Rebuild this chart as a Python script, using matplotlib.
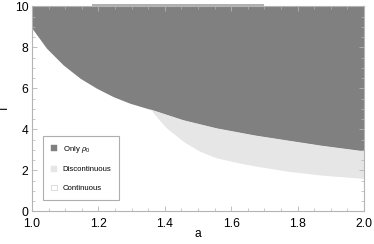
import matplotlib
matplotlib.use("Agg")
import matplotlib.pyplot as plt
from matplotlib.patches import Patch
from matplotlib.ticker import MultipleLocator

# Boundary between "Only rho0" (above) and the rest
a_upper = [1.0, 1.044, 1.094, 1.145, 1.195, 1.245, 1.295, 1.355, 1.455, 1.556, 1.672, 1.772, 1.873, 2.0]
T_upper = [8.93, 7.95, 7.14, 6.49, 6.00, 5.59, 5.27, 4.98, 4.45, 4.05, 3.70, 3.45, 3.20, 2.93]

# Lower boundary of the "Discontinuous" region
a_lower = [1.355, 1.361, 1.38, 1.406, 1.456, 1.506, 1.556, 1.617, 1.672, 1.772, 1.873, 2.0]
T_lower = [4.98, 4.91, 4.52, 4.05, 3.40, 2.91, 2.59, 2.36, 2.19, 1.93, 1.74, 1.58]

# Short contour segment along the top edge
a_top = [1.18, 1.70]
T_top = [10.04, 10.04]

x_ticks = [1.0, 1.2, 1.4, 1.6, 1.8, 2.0]
y_ticks = [0, 2, 4, 6, 8, 10]
labels = [r"Only $\rho_0$", "Discontinuous", "Continuous"]

dark = "#808080"
light = "#e6e6e6"
edge = "#b4b4b4"

plt.rcParams['font.family'] = ['Liberation Sans', 'DejaVu Sans']
plt.rcParams['mathtext.fontset'] = 'custom'
plt.rcParams['mathtext.it'] = 'Liberation Sans:italic'
plt.rcParams['mathtext.rm'] = 'Liberation Sans'

fig = plt.figure(figsize=(3.74, 2.44), dpi=100)
ax = fig.add_axes([32/374, 1 - 211.3/244, 332/374, 205/244])

ax.fill_between(a_upper, T_upper, 10, color=dark, lw=0)
# light region: polygon between the lower and upper boundaries for a >= start of lower curve
a_start = a_lower[0]
up_a = [a for a in a_upper if a >= a_start]
up_T = [t for a, t in zip(a_upper, T_upper) if a >= a_start]
ax.fill(list(a_lower) + up_a[::-1], list(T_lower) + up_T[::-1], color=light, lw=0)
ax.plot(a_top, T_top, color="#a8a8a8", lw=1.3, clip_on=False, solid_capstyle='butt')

ax.set_xlim(1.0, 2.0)
ax.set_ylim(0, 10)
ax.set_xticks(x_ticks)
ax.set_xticklabels([f"{v:.1f}" for v in x_ticks])
ax.set_yticks(y_ticks)
ax.xaxis.set_minor_locator(MultipleLocator(0.05))
ax.yaxis.set_minor_locator(MultipleLocator(0.5))

for s in ax.spines.values():
    s.set_color(edge)
    s.set_linewidth(0.8)
ax.tick_params(which='both', direction='in', top=True, right=True, color=edge,
               labelsize=8.7, labelcolor='black')
ax.tick_params(which='major', length=3.5, width=0.6)
ax.tick_params(which='minor', length=2, width=0.5)
ax.tick_params(axis='x', pad=4.5)
ax.tick_params(axis='y', pad=2.5)

ax.set_xlabel("a", fontsize=8.7)
ax.xaxis.set_label_coords(0.5, (211.3 - 228) / 205)
ax.set_ylabel("T", fontsize=8.7, rotation=90)
ax.yaxis.set_label_coords((10.5 - 32) / 332, 0.5)

handles = [Patch(facecolor=dark, edgecolor=dark, lw=0.3),
           Patch(facecolor=light, edgecolor=light, lw=0.3),
           Patch(facecolor='white', edgecolor='#cfcfcf', lw=0.5)]
leg = ax.legend(handles, labels, loc='lower left', bbox_to_anchor=(0.033, 0.055),
                fontsize=5.6, frameon=True, fancybox=False, handlelength=0.75,
                handleheight=0.75, handletextpad=0.8, labelspacing=1.45,
                borderpad=1.0, borderaxespad=0)
leg.get_frame().set_edgecolor('#9a9a9a')
leg.get_frame().set_linewidth(0.8)

fig.savefig("out.png", dpi=100)
